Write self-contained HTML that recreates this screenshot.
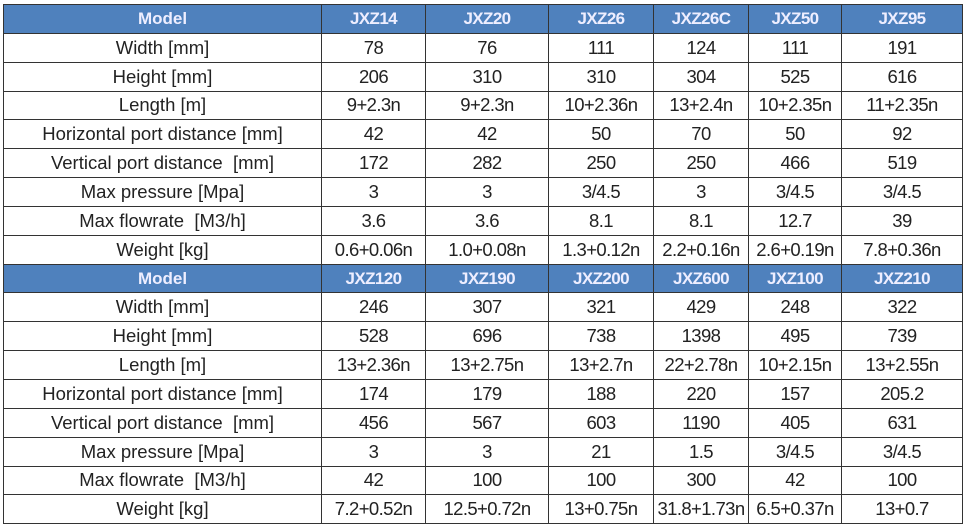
<!DOCTYPE html>
<html><head><style>
html,body{margin:0;padding:0;background:#fff;width:975px;height:528px;overflow:hidden}
table{position:absolute;left:3px;top:4px;border-collapse:collapse;font-family:"Liberation Sans",Arial,sans-serif;font-size:18.5px;color:#222;table-layout:fixed}
td{border:1.5px solid #333;height:27.3px;padding:0;text-align:center;white-space:nowrap;overflow:hidden;letter-spacing:-0.6px;line-height:20px}
td:first-child{letter-spacing:0}
tr{height:28.85px}
tr.h td{background:#4f81bd;color:#eef;font-weight:bold;font-size:17px}
</style></head><body>
<table>
<colgroup><col style="width:318px"><col style="width:104px"><col style="width:123px"><col style="width:105px"><col style="width:95px"><col style="width:93px"><col style="width:121px"></colgroup>
<tr class="h"><td>Model</td><td>JXZ14</td><td>JXZ20</td><td>JXZ26</td><td>JXZ26C</td><td>JXZ50</td><td>JXZ95</td></tr>
<tr><td>Width [mm]</td><td>78</td><td>76</td><td>111</td><td>124</td><td>111</td><td>191</td></tr>
<tr><td>Height [mm]</td><td>206</td><td>310</td><td>310</td><td>304</td><td>525</td><td>616</td></tr>
<tr><td>Length [m]</td><td>9+2.3n</td><td>9+2.3n</td><td>10+2.36n</td><td>13+2.4n</td><td>10+2.35n</td><td>11+2.35n</td></tr>
<tr><td>Horizontal port distance [mm]</td><td>42</td><td>42</td><td>50</td><td>70</td><td>50</td><td>92</td></tr>
<tr><td>Vertical port distance &nbsp;[mm]</td><td>172</td><td>282</td><td>250</td><td>250</td><td>466</td><td>519</td></tr>
<tr><td>Max pressure [Mpa]</td><td>3</td><td>3</td><td>3/4.5</td><td>3</td><td>3/4.5</td><td>3/4.5</td></tr>
<tr><td>Max flowrate &nbsp;[M3/h]</td><td>3.6</td><td>3.6</td><td>8.1</td><td>8.1</td><td>12.7</td><td>39</td></tr>
<tr><td>Weight [kg]</td><td>0.6+0.06n</td><td>1.0+0.08n</td><td>1.3+0.12n</td><td>2.2+0.16n</td><td>2.6+0.19n</td><td>7.8+0.36n</td></tr>
<tr class="h"><td>Model</td><td>JXZ120</td><td>JXZ190</td><td>JXZ200</td><td>JXZ600</td><td>JXZ100</td><td>JXZ210</td></tr>
<tr><td>Width [mm]</td><td>246</td><td>307</td><td>321</td><td>429</td><td>248</td><td>322</td></tr>
<tr><td>Height [mm]</td><td>528</td><td>696</td><td>738</td><td>1398</td><td>495</td><td>739</td></tr>
<tr><td>Length [m]</td><td>13+2.36n</td><td>13+2.75n</td><td>13+2.7n</td><td>22+2.78n</td><td>10+2.15n</td><td>13+2.55n</td></tr>
<tr><td>Horizontal port distance [mm]</td><td>174</td><td>179</td><td>188</td><td>220</td><td>157</td><td>205.2</td></tr>
<tr><td>Vertical port distance &nbsp;[mm]</td><td>456</td><td>567</td><td>603</td><td>1190</td><td>405</td><td>631</td></tr>
<tr><td>Max pressure [Mpa]</td><td>3</td><td>3</td><td>21</td><td>1.5</td><td>3/4.5</td><td>3/4.5</td></tr>
<tr><td>Max flowrate &nbsp;[M3/h]</td><td>42</td><td>100</td><td>100</td><td>300</td><td>42</td><td>100</td></tr>
<tr><td>Weight [kg]</td><td>7.2+0.52n</td><td>12.5+0.72n</td><td>13+0.75n</td><td>31.8+1.73n</td><td>6.5+0.37n</td><td>13+0.7</td></tr>
</table>
</body></html>
